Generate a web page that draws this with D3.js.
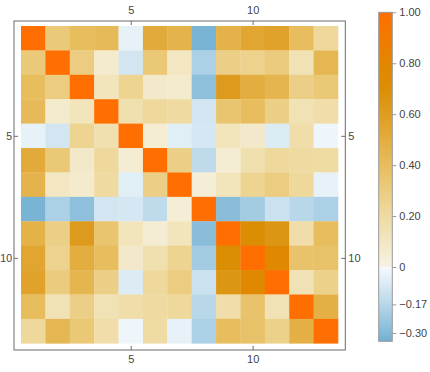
<!DOCTYPE html>
<html>
<head>
<meta charset="utf-8">
<script src="https://cdn.jsdelivr.net/npm/d3@7"></script>
<style>
  body { margin: 0; background: #fff; }
  text { font-family: "Liberation Sans", Arial, sans-serif; }
</style>
</head>
<body>
<div id="chart"></div>
<script>
// correlation matrix (rows top to bottom)
const corr = [
  [ 1.00, 0.32, 0.40, 0.42,-0.04, 0.52, 0.46,-0.32, 0.47, 0.55, 0.57, 0.40, 0.22],
  [ 0.32, 1.00, 0.30, 0.07,-0.10, 0.33, 0.10,-0.20, 0.28, 0.26, 0.31, 0.14, 0.44],
  [ 0.40, 0.30, 1.00, 0.12, 0.25, 0.08, 0.07,-0.27, 0.62, 0.50, 0.45, 0.28, 0.33],
  [ 0.42, 0.07, 0.12, 1.00, 0.16, 0.22, 0.20,-0.10, 0.35, 0.40, 0.28, 0.14, 0.18],
  [-0.04,-0.10, 0.25, 0.16, 1.00, 0.05,-0.06,-0.09, 0.12, 0.08,-0.07, 0.18,-0.02],
  [ 0.52, 0.33, 0.08, 0.22, 0.05, 1.00, 0.28,-0.15, 0.05, 0.16, 0.22, 0.20, 0.19],
  [ 0.46, 0.10, 0.07, 0.20,-0.06, 0.28, 1.00, 0.04, 0.12, 0.25, 0.30, 0.22,-0.04],
  [-0.32,-0.20,-0.27,-0.10,-0.09,-0.15, 0.04, 1.00,-0.28,-0.22,-0.12,-0.17,-0.20],
  [ 0.47, 0.28, 0.62, 0.35, 0.12, 0.05, 0.12,-0.28, 1.00, 0.70, 0.65, 0.18, 0.40],
  [ 0.55, 0.26, 0.50, 0.40, 0.08, 0.16, 0.25,-0.22, 0.70, 1.00, 0.78, 0.36, 0.37],
  [ 0.57, 0.31, 0.45, 0.28,-0.07, 0.22, 0.30,-0.12, 0.65, 0.78, 1.00, 0.14, 0.27],
  [ 0.40, 0.14, 0.28, 0.14, 0.18, 0.20, 0.22,-0.17, 0.18, 0.36, 0.14, 1.00, 0.48],
  [ 0.22, 0.44, 0.33, 0.18,-0.02, 0.19,-0.04,-0.20, 0.40, 0.37, 0.27, 0.48, 1.00]
]
const axisTicks = [5, 10]
const barTicks = [-0.30, -0.17, 0, 0.20, 0.40, 0.60, 0.80, 1.00]
const barMin = -0.338, barMax = 1.0

const n = corr.length
const width = 430, height = 372

// colour function: blue below zero, cream -> gold -> orange above
const negColor = d3.scaleLinear()
  .domain([barMin, -0.17, 0])
  .range(["#72b0d2", "#b8d7e9", "#f6fafd"])
const posColor = d3.scaleLinear()
  .domain([0, 0.2, 0.4, 0.6, 0.7, 0.8, 1.0])
  .range(["#f6f3e4", "#efdba2", "#e7bd5e", "#df9d22", "#db8e04", "#e38600", "#ff6e00"])
const color = v => v < 0 ? negColor(v) : posColor(v)

const svg = d3.select("#chart").append("svg")
  .attr("width", width)
  .attr("height", height)

// frame and cell area
const frame = {left: 14, top: 21, right: 345.3, bottom: 350}
const x = d3.scaleLinear().domain([0.5, n + 0.5]).range([21, 338])
const y = d3.scaleLinear().domain([0.5, n + 0.5]).range([26, 343.3])

const cells = []
corr.forEach((row, i) => row.forEach((v, j) => cells.push({i: i + 1, j: j + 1, v: v})))

svg.append("g")
  .selectAll("rect")
  .data(cells)
  .enter()
  .append("rect")
    .attr("x", d => x(d.j - 0.5))
    .attr("y", d => y(d.i - 0.5))
    .attr("width", x(1.5) - x(0.5) + 0.3)
    .attr("height", y(1.5) - y(0.5) + 0.3)
    .attr("fill", d => color(d.v))

svg.append("rect")
  .attr("x", frame.left)
  .attr("y", frame.top)
  .attr("width", frame.right - frame.left)
  .attr("height", frame.bottom - frame.top)
  .attr("fill", "none")
  .attr("stroke", "#6b6b6b")
  .attr("stroke-width", 1)

function styleAxis(g) {
  g.select(".domain").remove()
  g.selectAll("line").attr("stroke", "#6b6b6b")
  g.selectAll("text").attr("fill", "#444").attr("font-size", 11)
}

svg.append("g").attr("transform", "translate(0," + frame.top + ")")
  .call(d3.axisTop(x).tickValues(axisTicks).tickSize(-4).tickPadding(7))
  .call(styleAxis)
svg.append("g").attr("transform", "translate(0," + frame.bottom + ")")
  .call(d3.axisBottom(x).tickValues(axisTicks).tickSize(-4).tickPadding(5))
  .call(styleAxis)
svg.append("g").attr("transform", "translate(" + frame.left + ",0)")
  .call(d3.axisLeft(y).tickValues(axisTicks).tickSize(-4).tickPadding(2))
  .call(styleAxis)
  .call(g => g.selectAll("text").attr("font-size", 10.5))
svg.append("g").attr("transform", "translate(" + frame.right + ",0)")
  .call(d3.axisRight(y).tickValues(axisTicks).tickSize(-4).tickPadding(3))
  .call(styleAxis)

// colour bar
const bar = {x: 378.7, w: 13.6}
const barY = d3.scaleLinear().domain([barMin, 0, barMax]).range([341.3, 267, 12.3])

const grad = svg.append("defs").append("linearGradient")
  .attr("id", "bargrad")
  .attr("x1", 0).attr("y1", 1).attr("x2", 0).attr("y2", 0)
const span = barY(barMin) - barY(barMax)
const stops = d3.range(0, 61).map(k => barMin + (barMax - barMin) * k / 60)
stops.push(-0.0001, 0)
stops.sort((a, b) => a - b)
grad.selectAll("stop")
  .data(stops)
  .enter()
  .append("stop")
    .attr("offset", d => (barY(barMin) - barY(d)) / span)
    .attr("stop-color", d => color(d))

svg.append("rect")
  .attr("x", bar.x)
  .attr("y", barY(barMax))
  .attr("width", bar.w)
  .attr("height", span)
  .attr("fill", "url(#bargrad)")
  .attr("stroke", "#9a9a9a")
  .attr("stroke-width", 1)

const fmt = v => v === 0 ? "0" : (v < 0 ? "\u2212" + d3.format(".2f")(-v) : d3.format(".2f")(v))
svg.append("g").attr("transform", "translate(" + (bar.x + bar.w) + ",0)")
  .call(d3.axisRight(barY).tickValues(barTicks).tickFormat(fmt).tickSize(4).tickPadding(3))
  .call(g => {
    g.select(".domain").remove()
    g.selectAll("line").attr("stroke", "#9a9a9a")
    g.selectAll("text").attr("fill", "#444").attr("font-size", 11)
  })
</script>
</body>
</html>
